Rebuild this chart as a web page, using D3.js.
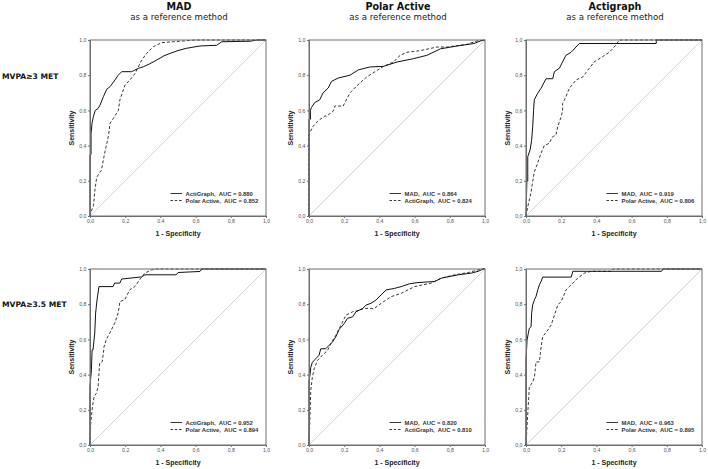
<!DOCTYPE html>
<html><head><meta charset="utf-8">
<script src="https://cdn.jsdelivr.net/npm/d3@7"></script>
<style>
html,body{margin:0;padding:0;background:#fff;}
svg text{white-space:pre;}
</style></head>
<body><svg id="chart" width="708" height="469"></svg>
<script>
// ---- data ----
const columnTitles = ["MAD", "Polar Active", "Actigraph"];
const columnSubtitle = "as a reference method";
const rowLabels = ["MVPA\u22653 MET", "MVPA\u22653.5 MET"];
const tickValues = [0, 0.2, 0.4, 0.6, 0.8, 1.0];
const xAxisTitle = "1 - Specificity";
const yAxisTitle = "Sensitivity";

// panel legends: [solid label, dashed label]
const legend1 = ["ActiGraph,  AUC = 0.880", "Polar Active,  AUC = 0.852"];
const legend2 = ["MAD,  AUC = 0.864", "ActiGraph,  AUC = 0.824"];
const legend3 = ["MAD,  AUC = 0.919", "Polar Active,  AUC = 0.806"];
const legend4 = ["ActiGraph,  AUC = 0.952", "Polar Active,  AUC = 0.894"];
const legend5 = ["MAD,  AUC = 0.820", "ActiGraph,  AUC = 0.810"];
const legend6 = ["MAD,  AUC = 0.963", "Polar Active,  AUC = 0.895"];

// ROC curves: [1 - specificity, sensitivity]
const roc1Solid = [[0,0],[0,0.35],[0.006,0.35],[0.006,0.47],[0.012,0.53],[0.019,0.564],[0.03,0.6],[0.045,0.61],[0.057,0.63],[0.076,0.678],[0.095,0.72],[0.114,0.735],[0.142,0.773],[0.16,0.8],[0.18,0.82],[0.237,0.82],[0.275,0.839],[0.303,0.848],[0.34,0.865],[0.379,0.886],[0.42,0.91],[0.455,0.924],[0.5,0.94],[0.549,0.953],[0.625,0.966],[0.72,0.97],[0.748,0.99],[0.909,0.993],[0.95,1],[1,1]];
const roc1Dashed = [[0,0],[0.01,0.034],[0.02,0.06],[0.028,0.148],[0.038,0.22],[0.057,0.25],[0.065,0.26],[0.076,0.32],[0.085,0.365],[0.104,0.45],[0.114,0.527],[0.133,0.555],[0.161,0.6],[0.17,0.66],[0.199,0.744],[0.227,0.773],[0.256,0.81],[0.294,0.886],[0.322,0.924],[0.36,0.962],[0.407,0.985],[0.473,0.99],[0.6,1],[1,1]];
const roc2Solid = [[0,0],[0,0.55],[0.008,0.55],[0.008,0.6],[0.014,0.616],[0.033,0.645],[0.061,0.66],[0.08,0.7],[0.109,0.727],[0.128,0.765],[0.166,0.784],[0.233,0.8],[0.28,0.83],[0.347,0.847],[0.423,0.85],[0.5,0.875],[0.594,0.894],[0.67,0.913],[0.747,0.95],[0.842,0.966],[0.937,0.98],[0.975,0.995],[1,1]];
const roc2Dashed = [[0,0],[0,0.464],[0.023,0.51],[0.051,0.54],[0.09,0.568],[0.1,0.568],[0.137,0.595],[0.147,0.625],[0.194,0.625],[0.233,0.7],[0.27,0.738],[0.328,0.79],[0.375,0.82],[0.423,0.85],[0.48,0.875],[0.518,0.913],[0.556,0.93],[0.633,0.94],[0.728,0.96],[0.785,0.96],[0.9,0.976],[0.956,0.995],[1,1]];
const roc3Solid = [[0,0],[0.005,0.2],[0.01,0.2],[0.01,0.337],[0.023,0.375],[0.032,0.43],[0.038,0.507],[0.043,0.6],[0.047,0.66],[0.066,0.697],[0.085,0.725],[0.114,0.78],[0.152,0.78],[0.161,0.82],[0.19,0.84],[0.208,0.876],[0.227,0.913],[0.256,0.93],[0.284,0.96],[0.303,0.98],[0.74,0.98],[0.74,1],[1,1]];
const roc3Dashed = [[0,0],[0.01,0.053],[0.028,0.13],[0.038,0.195],[0.047,0.25],[0.066,0.3],[0.085,0.356],[0.104,0.4],[0.132,0.413],[0.151,0.45],[0.17,0.46],[0.18,0.507],[0.2,0.564],[0.208,0.6],[0.208,0.64],[0.227,0.678],[0.246,0.725],[0.284,0.773],[0.322,0.79],[0.36,0.84],[0.388,0.876],[0.435,0.905],[0.473,0.93],[0.51,0.97],[0.53,1],[1,1]];
const roc4Solid = [[0,0],[0,0.33],[0.008,0.427],[0.012,0.54],[0.017,0.54],[0.027,0.636],[0.032,0.75],[0.04,0.825],[0.051,0.9],[0.131,0.9],[0.14,0.92],[0.17,0.92],[0.18,0.943],[0.293,0.955],[0.312,0.967],[0.49,0.967],[0.5,0.98],[0.625,0.986],[0.635,1],[1,1]];
const roc4Dashed = [[0,0],[0.004,0.123],[0.014,0.218],[0.023,0.275],[0.036,0.294],[0.046,0.332],[0.055,0.465],[0.07,0.474],[0.078,0.54],[0.08,0.56],[0.093,0.6],[0.112,0.636],[0.14,0.69],[0.16,0.75],[0.17,0.815],[0.197,0.825],[0.226,0.882],[0.255,0.9],[0.283,0.94],[0.312,0.977],[0.35,0.995],[0.379,1],[1,1]];
const roc5Solid = [[0,0],[0,0.365],[0.006,0.4],[0.01,0.44],[0.019,0.47],[0.038,0.49],[0.057,0.51],[0.067,0.547],[0.095,0.547],[0.114,0.566],[0.133,0.585],[0.152,0.614],[0.171,0.656],[0.2,0.69],[0.219,0.72],[0.248,0.728],[0.267,0.757],[0.305,0.776],[0.324,0.795],[0.352,0.805],[0.381,0.824],[0.41,0.853],[0.438,0.881],[0.486,0.89],[0.524,0.9],[0.571,0.916],[0.619,0.923],[0.714,0.929],[0.752,0.948],[0.848,0.967],[0.924,0.977],[0.962,0.987],[0.99,1],[1,1]];
const roc5Dashed = [[0,0],[0.006,0.174],[0.01,0.31],[0.019,0.384],[0.029,0.432],[0.048,0.48],[0.076,0.51],[0.105,0.537],[0.124,0.576],[0.152,0.623],[0.181,0.68],[0.21,0.738],[0.248,0.757],[0.276,0.763],[0.314,0.776],[0.371,0.776],[0.41,0.805],[0.467,0.843],[0.524,0.862],[0.6,0.9],[0.695,0.92],[0.752,0.948],[0.829,0.967],[0.905,0.98],[0.98,1],[1,1]];
const roc6Solid = [[0,0],[0,0.48],[0.006,0.596],[0.013,0.634],[0.019,0.663],[0.029,0.672],[0.032,0.749],[0.038,0.796],[0.048,0.825],[0.057,0.844],[0.067,0.882],[0.076,0.91],[0.086,0.93],[0.095,0.954],[0.257,0.954],[0.266,0.987],[0.77,0.987],[0.78,1],[1,1]];
const roc6Dashed = [[0,0],[0.01,0.177],[0.019,0.33],[0.038,0.358],[0.048,0.387],[0.057,0.472],[0.076,0.472],[0.086,0.558],[0.095,0.615],[0.124,0.653],[0.143,0.682],[0.162,0.739],[0.181,0.796],[0.2,0.815],[0.228,0.882],[0.247,0.9],[0.266,0.92],[0.295,0.949],[0.333,0.977],[0.371,0.987],[0.485,0.987],[0.494,1],[1,1]];

const panels = [
  {row:0,col:0,solid:roc1Solid,dashed:roc1Dashed,legend:legend1},
  {row:0,col:1,solid:roc2Solid,dashed:roc2Dashed,legend:legend2},
  {row:0,col:2,solid:roc3Solid,dashed:roc3Dashed,legend:legend3},
  {row:1,col:0,solid:roc4Solid,dashed:roc4Dashed,legend:legend4},
  {row:1,col:1,solid:roc5Solid,dashed:roc5Dashed,legend:legend5},
  {row:1,col:2,solid:roc6Solid,dashed:roc6Dashed,legend:legend6}
];

// ---- layout ----
const colX = [90, 309, 526];
const rowY = [40, 269];
const W = 176, H = 176;
const svg = d3.select("#chart");
const fmt = v => d3.format(".1f")(v).replace(".", ",");

// column titles
columnTitles.forEach((t, i) => {
  const cx = colX[i] + W/2 + 1;
  svg.append("text").attr("x", cx).attr("y", 9.8).attr("text-anchor","middle")
    .attr("font-family","DejaVu Sans").attr("font-weight","bold").attr("font-size",9.6)
    .attr("fill","#111").text(t);
  svg.append("text").attr("x", cx).attr("y", 19.5).attr("text-anchor","middle")
    .attr("font-family","DejaVu Sans").attr("font-size",8.6)
    .attr("fill","#222").text(columnSubtitle);
});
// row labels
rowLabels.forEach((t, i) => {
  svg.append("text").attr("x", 2).attr("y", i === 0 ? 78.5 : 307)
    .attr("font-family","DejaVu Sans").attr("font-weight","bold").attr("font-size",7.6)
    .attr("fill","#111").text(t);
});

panels.forEach(p => {
  const x0 = colX[p.col], y0 = rowY[p.row];
  const g = svg.append("g").attr("transform", `translate(${x0},${y0})`);
  const x = d3.scaleLinear().domain([0,1]).range([0,W]);
  const y = d3.scaleLinear().domain([0,1]).range([H,0]);

  // diagonal reference
  g.append("line").attr("x1", x(0)).attr("y1", y(0)).attr("x2", x(1)).attr("y2", y(1))
    .attr("stroke","#cfcfcf").attr("stroke-width",0.9);

  const line = d3.line().x(d => x(d[0])).y(d => y(d[1]));
  g.append("path").datum(p.dashed).attr("d", line).attr("fill","none")
    .attr("stroke","#222").attr("stroke-width",0.9).attr("stroke-dasharray","3,2");
  g.append("path").datum(p.solid).attr("d", line).attr("fill","none")
    .attr("stroke","#111").attr("stroke-width",1);

  // frame
  g.append("rect").attr("x",0).attr("y",0).attr("width",W).attr("height",H)
    .attr("fill","none").attr("stroke","#6e6e6e").attr("stroke-width",1);

  // axes
  const xa = g.append("g").attr("transform", `translate(0,${H})`)
    .call(d3.axisBottom(x).tickValues(tickValues).tickFormat(fmt).tickSize(2).tickPadding(1.5));
  const ya = g.append("g")
    .call(d3.axisLeft(y).tickValues(tickValues).tickFormat(fmt).tickSize(2).tickPadding(1.5));
  [xa, ya].forEach(a => {
    a.select(".domain").attr("stroke","#6e6e6e");
    a.selectAll(".tick line").attr("stroke","#6e6e6e");
    a.selectAll(".tick text").attr("font-family","Liberation Sans").attr("font-size",5.2).attr("fill","#555");
  });

  // axis titles
  g.append("text").attr("x", W/2).attr("y", H + 20).attr("text-anchor","middle")
    .attr("font-family","Liberation Sans").attr("font-weight","bold").attr("font-size",7)
    .attr("fill","#222").text(xAxisTitle);
  g.append("text").attr("transform", `translate(-16,${H/2}) rotate(-90)`).attr("text-anchor","middle")
    .attr("font-family","Liberation Sans").attr("font-weight","bold").attr("font-size",7)
    .attr("fill","#222").text(yAxisTitle);

  // legend
  const ly = [H - 22.5, H - 15.5];
  [0,1].forEach(i => {
    g.append("line").attr("x1", 80.5).attr("x2", 92).attr("y1", ly[i]).attr("y2", ly[i])
      .attr("stroke","#222").attr("stroke-width",0.9)
      .attr("stroke-dasharray", i === 1 ? "2.5,1.8" : null);
    g.append("text").attr("x", 95.5).attr("y", ly[i] + 2)
      .attr("font-family","Liberation Sans").attr("font-weight","bold").attr("font-size",5.9)
      .attr("fill","#333").text(p.legend[i]);
  });
});
</script></body></html>
